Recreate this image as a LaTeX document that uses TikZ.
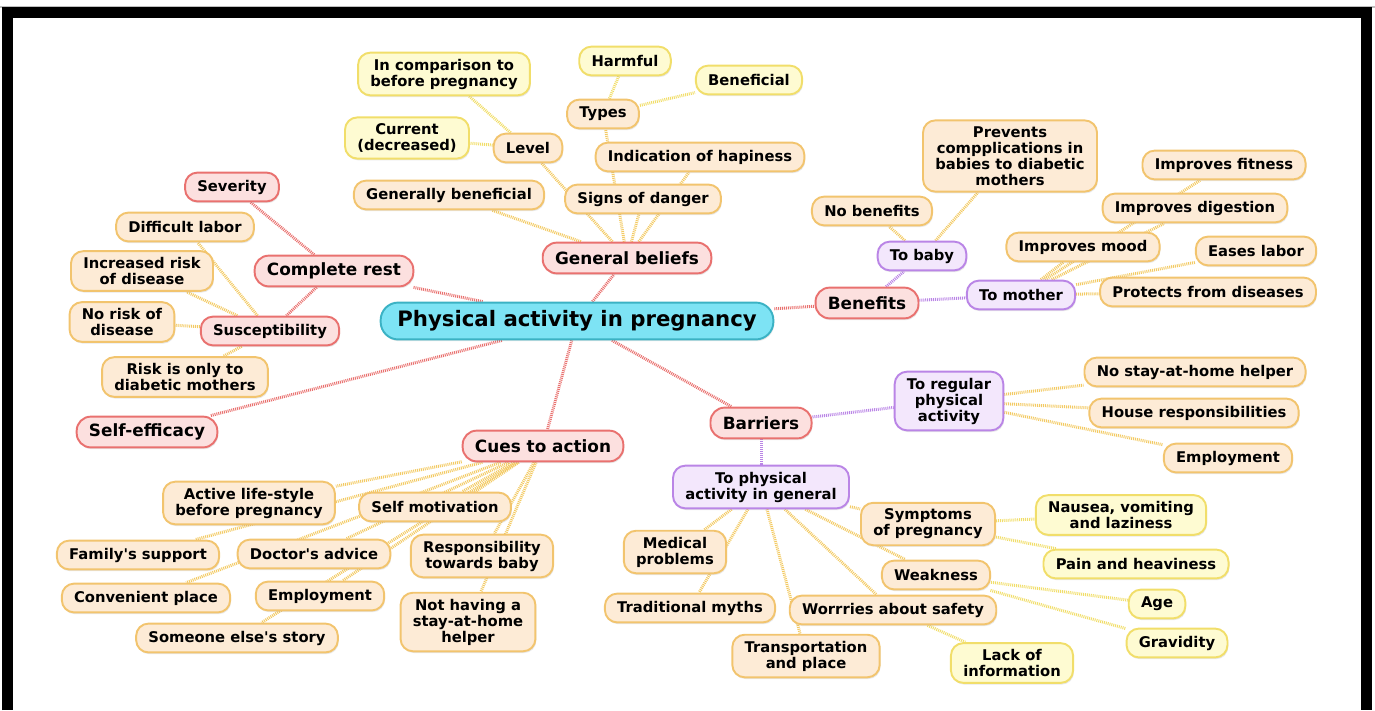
\documentclass[tikz,border=0pt]{standalone}
\usepackage{fontspec}
\setmainfont{DejaVu Sans}
\usetikzlibrary{shadows,backgrounds}

\definecolor{hubfill}{HTML}{7DE3F4}
\definecolor{hubline}{HTML}{3BB2C4}
\definecolor{redfill}{HTML}{FCE0DF}
\definecolor{redline}{HTML}{E9716F}
\definecolor{purpfill}{HTML}{F3E7FC}
\definecolor{purpline}{HTML}{BA85E6}
\definecolor{orfill}{HTML}{FDEBD6}
\definecolor{orline}{HTML}{F2C46E}
\definecolor{yefill}{HTML}{FEFBD2}
\definecolor{yeline}{HTML}{F1DE6A}

\begin{document}
\begin{tikzpicture}[x=0.02cm, y=-0.02cm,
    every node/.style={font=\fontsize{8.4}{9.1}\selectfont\bfseries, align=center},
    topic/.style={draw, rounded corners=7pt, line width=1.1pt, inner xsep=7pt, inner ysep=3.5pt,
      minimum height=16.4pt, drop shadow={shadow xshift=0.5pt, shadow yshift=-1pt, opacity=0.18}},
    hub/.style={topic, draw=hubline, fill=hubfill, font=\fontsize{12.1}{13}\selectfont\bfseries,
      minimum height=21pt, rounded corners=10pt, inner xsep=9.5pt},
    factor/.style={topic, draw=redline, fill=redfill, font=\fontsize{9.6}{10}\selectfont\bfseries,
      minimum height=17.5pt, rounded corners=8pt},
    subfactor/.style={topic, draw=redline, fill=redfill},
    kind/.style={topic, draw=purpline, fill=purpfill},
    item/.style={topic, draw=orline, fill=orfill},
    detail/.style={topic, draw=yeline, fill=yefill},
    link/.style={line width=1.7pt, dash pattern=on 0.55pt off 0.55pt},
    redlink/.style={link, draw=redline},
    purplink/.style={link, draw=purpline},
    orlink/.style={link, draw=orline!90!yellow},
    yelink/.style={link, draw=yeline}
  ]
    \useasboundingbox (0,0) rectangle (1375,710);

    % Rahmen
    \draw[black!25, line width=0.8pt] (0,7) -- (1375,7);
    \draw[black, line width=6.5pt] (7.5,710) -- (7.5,12.5) -- (1366.5,12.5) -- (1366.5,710);

    % Zentrum
    \node[hub] (hub) at (577,321) {Physical activity in pregnancy};

    % Hauptfaktoren
    \node[factor] (beliefs) at (627,258) {General beliefs};
    \node[factor] (rest) at (334,271) {Complete rest};
    \node[subfactor] (severity) at (232,187) {Severity};
    \node[subfactor] (suscept) at (270,331) {Susceptibility};
    \node[factor] (efficacy) at (147,432) {Self-efficacy};
    \node[factor] (benefits) at (867,303) {Benefits};
    \node[factor] (barriers) at (761,423) {Barriers};
    \node[factor] (cues) at (543,446) {Cues to action};

    % Unterarten
    \node[kind] (tobaby) at (922,256) {To baby};
    \node[kind] (tomother) at (1021,295) {To mother};
    \node[kind] (regular) at (949,401) {To regular\\physical\\activity};
    \node[kind] (general) at (761,487) {To physical\\activity in general};

    % General beliefs
    \node[item] (level) at (528,148) {Level};
    \node[item] (types) at (603,114) {Types};
    \node[item] (hapiness) at (700,157) {Indication of hapiness};
    \node[item] (danger) at (643,199) {Signs of danger};
    \node[item] (genben) at (449,195) {Generally beneficial};
    \node[detail] (compare) at (444,74) {In comparison to\\before pregnancy};
    \node[detail] (current) at (407,138) {Current\\(decreased)};
    \node[detail] (harmful) at (625,61) {Harmful};
    \node[detail] (beneficial) at (749,80) {Beneficial};

    % Susceptibility
    \node[item] (difflabor) at (185,227) {Difficult labor};
    \node[item] (incrisk) at (142,271) {Increased risk\\of disease};
    \node[item] (norisk) at (122,322) {No risk of\\disease};
    \node[item] (riskonly) at (185,377) {Risk is only to\\diabetic mothers};

    % Benefits
    \node[item] (nobenefits) at (872,211) {No benefits};
    \node[item] (prevents) at (1010,156) {Prevents\\compplications in\\babies to diabetic\\mothers};
    \node[item] (fitness) at (1224,165) {Improves fitness};
    \node[item] (digestion) at (1195,208) {Improves digestion};
    \node[item] (mood) at (1083,247) {Improves mood};
    \node[item] (eases) at (1256,251) {Eases labor};
    \node[item] (protects) at (1208,292) {Protects from diseases};

    % Barriers
    \node[item] (nohelper) at (1195,372) {No stay-at-home helper};
    \node[item] (house) at (1194,413) {House responsibilities};
    \node[item] (employ) at (1228,458) {Employment};
    \node[item] (symptoms) at (928,524) {Symptoms\\of pregnancy};
    \node[item] (medical) at (675,552) {Medical\\problems};
    \node[item] (weakness) at (936,575) {Weakness};
    \node[item] (myths) at (690,608) {Traditional myths};
    \node[item] (worries) at (893,610) {Worrries about safety};
    \node[item] (transport) at (806,656) {Transportation\\and place};
    \node[detail] (nausea) at (1121,515) {Nausea, vomiting\\and laziness};
    \node[detail] (pain) at (1136,564) {Pain and heaviness};
    \node[detail] (age) at (1157,604) {Age};
    \node[detail] (gravidity) at (1177,643) {Gravidity};
    \node[detail] (lackinfo) at (1012,663) {Lack of\\information};

    % Cues to action
    \node[item] (active) at (249,503) {Active life-style\\before pregnancy};
    \node[item] (selfmot) at (435,507) {Self motivation};
    \node[item] (family) at (138,555) {Family\textquotesingle s support};
    \node[item] (doctor) at (314,554) {Doctor\textquotesingle s advice};
    \node[item] (respons) at (482,556) {Responsibility\\towards baby};
    \node[item] (convenient) at (146,598) {Convenient place};
    \node[item] (employcue) at (320,596) {Employment};
    \node[item] (nothaving) at (468,622) {Not having a\\stay-at-home\\helper};
    \node[item] (someone) at (237,638) {Someone else\textquotesingle s story};

    % Verbindungen
    \begin{scope}[on background layer]
      \foreach \a/\b in {hub/beliefs, hub/rest, hub/efficacy, hub/cues, hub/barriers, hub/benefits,
          rest/severity, rest/suscept}
        \draw[redlink] (\a) -- (\b);
      \foreach \a/\b in {benefits/tobaby, benefits/tomother, barriers/regular, barriers/general}
        \draw[purplink] (\a) -- (\b);
      \foreach \a/\b in {beliefs/genben, beliefs/level, beliefs/danger, beliefs/hapiness, beliefs/types,
          suscept/difflabor, suscept/incrisk, suscept/norisk, suscept/riskonly,
          tobaby/nobenefits, tobaby/prevents,
          tomother/mood, tomother/digestion, tomother/fitness, tomother/eases, tomother/protects,
          regular/nohelper, regular/house, regular/employ,
          general/medical, general/myths, general/transport, general/worries, general/weakness, general/symptoms,
          cues/active, cues/selfmot, cues/family, cues/doctor, cues/respons,
          cues/convenient, cues/employcue, cues/nothaving, cues/someone}
        \draw[orlink] (\a) -- (\b);
      \foreach \a/\b in {level/compare, level/current, types/harmful, types/beneficial,
          symptoms/nausea, symptoms/pain, weakness/age, weakness/gravidity, worries/lackinfo}
        \draw[yelink] (\a) -- (\b);
    \end{scope}
\end{tikzpicture}
\end{document}
